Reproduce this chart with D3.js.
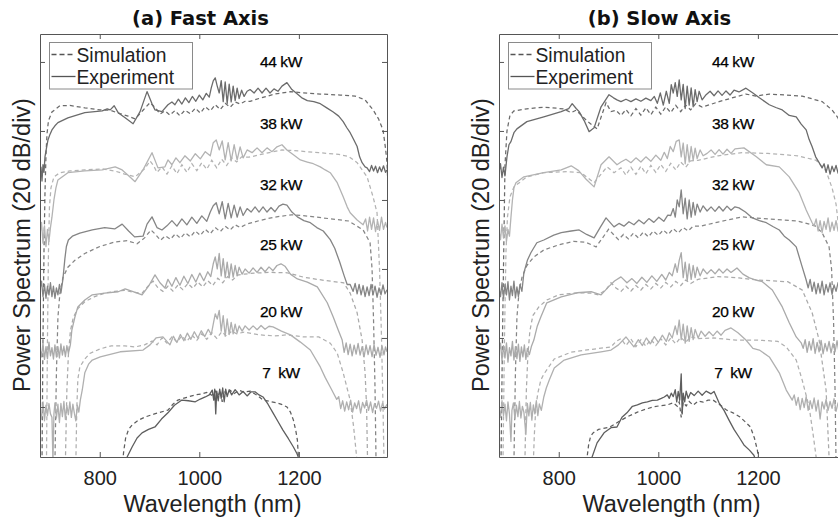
<!DOCTYPE html>
<html>
<head>
<meta charset="utf-8">
<script src="https://cdn.jsdelivr.net/npm/d3@7"></script>
<style>
  body { margin: 0; background: #fff; }
  svg { font-family: "Liberation Sans", Arial, sans-serif; }
</style>
</head>
<body>
<svg id="main" width="838" height="521"></svg>
<script>
// ---- data (wavelength in nm, level in dB, traces stacked 20 dB/div) ----
const panelTitles = ["(a) Fast Axis", "(b) Slow Axis"];
const powers = ["44 kW", "38 kW", "32 kW", "25 kW", "20 kW", "7  kW"];
const legendLabels = ["Simulation", "Experiment"];
const xTicks = [800, 1000, 1200];
const yTicks = [0, 20, 40, 60, 80, 100];

// (a) fast axis
const fast44Exp = [[680,66.7],[682,69.5],[684,65.5],[686,70.2],[688,68],[690,72.5],[693,75],[696,77.4],[700,79],[704,80.3],[710,81.5],[716,82.4],[736,83.8],[770,85.3],[805,85.8],[815,86.4],[821,86.1],[829,87.3],[837,85.3],[851,83.8],[867,82.1],[881,85.6],[895,91.4],[905,87.9],[911,86.1],[925,85.6],[937,87.6],[945,88.4],[951,87.6],[958,89.2],[965,87.8],[972,89.6],[979,88.2],[986,90],[993,88.6],[1000,90.4],[1007,89],[1014,90.9],[1020,89.8],[1024,92.5],[1028,94.5],[1032,95.4],[1036,93],[1040,91],[1044,94.6],[1048,88.5],[1052,94.2],[1056,88],[1060,93.6],[1064,88.4],[1068,93],[1072,88.8],[1076,92.4],[1080,89.4],[1085,91.8],[1090,90],[1096,91.5],[1102,92],[1110,91],[1118,92.4],[1126,91],[1134,92.4],[1142,91],[1150,92.2],[1158,91.5],[1166,93],[1176,94],[1186,92],[1197,90.7],[1207,89.5],[1217,88.8],[1230,88.5],[1243,87.9],[1256,86.7],[1269,85.5],[1280,84.3],[1289,82.7],[1296,81],[1303,79.5],[1310,77.5],[1317,75.5],[1322,72.5],[1327,70.8],[1333,69.6],[1337,69.3],[1342,68.2],[1346,70],[1350,68.4],[1354,69.8],[1358,67.9],[1362,69.6],[1366,68.2],[1370,69.9],[1374,68],[1377,68.7]];
const fast44Sim = [[684,-16],[686,20],[688,45],[690,62],[692,73],[694,79],[697,83],[704,85.5],[720,87.3],[740,87.4],[770,86.7],[801,86.1],[821,86],[841,85],[857,84.3],[871,83.5],[887,86],[901,88.2],[913,86.5],[921,84.9],[931,85.8],[941,84.6],[951,85.9],[961,84.4],[971,86],[982,85],[992,86.6],[1002,85.2],[1012,87],[1022,85.8],[1032,87.6],[1042,86.2],[1052,88],[1062,86.9],[1072,88.4],[1082,87.8],[1092,88.6],[1102,88.6],[1122,89.5],[1152,90.7],[1183,91.4],[1203,91.1],[1243,90.7],[1283,90.4],[1313,90.1],[1333,89],[1349,86.1],[1360,83.5],[1369,80.3],[1374,75],[1377,70.8],[1380,60]];
const fast38Exp = [[680,50],[683,53.5],[686,47.5],[689,52.5],[692,46.5],[695,51.5],[698,48],[701,52],[704,55],[708,60],[712,63.5],[716,65.8],[736,67.9],[770,68.4],[805,68.7],[831,69.6],[845,68.7],[858,67],[871,65.3],[888,69],[905,73.7],[917,69.3],[931,69.6],[937,71.6],[945,70.2],[953,72.2],[961,70.8],[971,72.8],[982,71.3],[992,73.4],[1002,71.9],[1012,74],[1022,72.8],[1028,76.6],[1034,77.4],[1040,74.5],[1046,77.1],[1052,71.6],[1058,76.6],[1064,71.3],[1070,76],[1076,71.6],[1082,75.4],[1088,72.2],[1096,74.5],[1106,73.7],[1116,75.1],[1126,73.7],[1136,75.1],[1146,74],[1156,75.4],[1166,76],[1176,74.5],[1189,73.1],[1203,71.6],[1217,71],[1229,70.5],[1243,69.6],[1253,68.7],[1263,67.9],[1277,65],[1289,60.9],[1297,58],[1303,56.3],[1317,54.2],[1329,52.8],[1334,54.5],[1338,51],[1342,55],[1346,51.5],[1350,54.8],[1354,50.8],[1358,53.9],[1362,51.2],[1366,55],[1370,51.5],[1374,53.5],[1377,52]];
const fast38Sim = [[693,-16],[695,20],[697,45],[699,58],[702,63.5],[708,66.7],[720,67.9],[740,68.4],[770,68.7],[805,69],[830,68.4],[850,67.5],[871,66.7],[890,69],[901,71.3],[908,70],[915,68],[925,69.6],[935,67.5],[945,69.9],[955,67.6],[965,70.2],[975,68],[985,70.5],[995,68.5],[1005,70.8],[1015,68.9],[1025,71.5],[1035,69.3],[1045,71.8],[1055,70],[1065,72.2],[1075,71],[1085,72.5],[1100,72.4],[1130,73.4],[1166,74.5],[1200,74.2],[1240,73.7],[1280,73.2],[1300,72.6],[1317,70.8],[1337,66.7],[1349,60.9],[1357,56.3],[1362,40],[1366,20],[1369,0],[1371,-16]];
const fast32Exp = [[680,34],[683,36.5],[686,32],[689,35.5],[692,31.5],[695,35],[698,32.5],[701,36],[704,32],[707,35],[710,31.5],[713,34.5],[716,32.5],[719,35.5],[722,33],[726,37],[730,43],[733,46.5],[737,48.4],[745,49.5],[760,50.4],[785,51.3],[810,52],[830,51.6],[845,53],[858,51],[870,49.3],[887,49.5],[895,53],[905,55.1],[915,52],[925,51.3],[935,52.5],[945,54],[955,52.4],[965,54.5],[975,52.8],[985,55],[995,53.2],[1005,55.4],[1015,53.8],[1022,56.5],[1028,58.3],[1034,59.2],[1040,56],[1046,59.5],[1052,54.5],[1058,59],[1064,54.8],[1070,58.5],[1076,55],[1082,58],[1088,55.5],[1096,57.5],[1104,56.5],[1112,58],[1120,56.5],[1128,58],[1136,56.5],[1144,57.8],[1152,56.6],[1160,58.2],[1168,58.8],[1176,58.5],[1186,56.5],[1197,55.1],[1210,54],[1223,53.4],[1236,52],[1249,51],[1263,48.5],[1272,46],[1282,42],[1291,38],[1297,35.5],[1303,35.5],[1309,33.5],[1313,35.8],[1317,32.8],[1321,35.5],[1325,32.5],[1329,35.2],[1333,32],[1337,34.8],[1341,32.3],[1345,35.5],[1349,32.5],[1353,35],[1357,31.8],[1361,34.5],[1365,32.5],[1369,35.4],[1373,32.8],[1377,34]];
const fast32Sim = [[710,-16],[713,10],[716,26],[720,33],[726,37.5],[736,40.5],[750,42.5],[770,44.5],[800,46.5],[830,47.8],[855,48.2],[875,47.3],[890,49],[903,51.3],[912,50],[922,48.3],[932,49.6],[942,48.6],[952,50.2],[962,48.9],[972,50.5],[982,49.3],[992,51],[1002,49.7],[1012,51.5],[1022,50.2],[1032,52],[1042,50.8],[1052,52.4],[1062,51.3],[1072,52.8],[1082,52],[1095,53],[1120,54],[1150,55],[1185,55.7],[1220,55.3],[1260,54.6],[1300,53.9],[1329,51.3],[1343,47.6],[1347,40],[1350,25],[1353,5],[1355,-16]];
const fast25Exp = [[680,17],[683,14.5],[686,18.5],[689,13.8],[692,17.5],[695,14],[698,18.8],[701,14.8],[704,17.2],[707,13.9],[710,18],[713,14.5],[716,17.5],[719,14.2],[722,18.3],[725,15],[728,17.6],[731,14.6],[734,17.8],[737,15.5],[741,18],[744,22.3],[750,26],[756,29],[770,31],[785,32.5],[810,33],[837,33.4],[851,34.2],[867,33.4],[885,32.5],[898,35],[911,38.3],[921,36],[931,34.5],[937,37],[945,35],[953,37.5],[961,35.3],[969,37.9],[977,35.8],[985,38.4],[993,36.2],[1001,38.8],[1009,36.6],[1017,39.2],[1023,37.8],[1028,41.5],[1032,43.5],[1036,40],[1040,44.5],[1044,38],[1048,43],[1052,37.5],[1056,42],[1060,37.4],[1064,41.5],[1068,37.6],[1072,41],[1076,38],[1080,40.5],[1086,38.5],[1092,40],[1100,38.8],[1108,40.3],[1116,39],[1124,40.5],[1132,39.2],[1140,40.6],[1148,39.5],[1156,41],[1164,41.5],[1172,40.8],[1183,38.5],[1197,37.1],[1217,36.2],[1237,34.8],[1257,30.2],[1269,26.1],[1279,22.3],[1287,19.4],[1291,15.8],[1295,18.6],[1299,15.2],[1303,18.2],[1307,14.8],[1311,17.9],[1315,15.3],[1319,18.4],[1323,15],[1327,17.5],[1331,14.5],[1335,18],[1339,15.2],[1343,17.8],[1347,14.6],[1351,18.1],[1355,15],[1359,17.3],[1363,14.4],[1367,17.7],[1371,15.1],[1374,17.4],[1377,16]];
const fast25Sim = [[731,-16],[734,5],[737,15],[741,22],[747,26],[756,28.5],[770,30.5],[790,32],[810,33],[830,33.5],[850,33.8],[870,33.2],[885,33],[897,35],[907,36.5],[917,34.5],[927,33.5],[937,35],[947,33.6],[957,35.3],[967,34],[977,35.8],[987,34.4],[997,36.2],[1007,34.8],[1017,36.6],[1027,35.2],[1037,37.3],[1047,36],[1057,37.8],[1067,36.8],[1077,38.2],[1090,38.5],[1110,38.8],[1140,39],[1176,38.9],[1210,37.6],[1250,36.7],[1290,36],[1303,33],[1317,27.3],[1327,19.4],[1333,9.9],[1336,0],[1338,-16]];
const fast20Exp = [[680,-1],[683,-3.5],[686,1.5],[689,-4],[692,0.5],[695,-2.5],[698,1],[701,-2],[704,-3],[706,-16],[708,-2],[710,1.2],[713,-3.2],[716,0.8],[719,-4.5],[722,1],[725,-2.8],[728,1.6],[731,-3.6],[734,0.4],[737,-2.2],[740,1.5],[743,-3],[746,0.8],[749,-1.8],[752,-4],[755,0.5],[758,-1.5],[761,2],[765,5],[770,9.9],[778,12.5],[785,13.6],[801,14.5],[841,16],[887,16.5],[901,18],[913,20],[927,20.3],[941,18],[948,20.5],[955,18.7],[962,21],[969,19.2],[976,21.4],[983,19.6],[990,21.8],[997,20],[1004,22.1],[1011,20.4],[1018,22.5],[1024,21],[1028,24],[1032,27],[1036,25.5],[1040,28],[1044,22],[1048,26.5],[1052,20.5],[1056,25.5],[1060,21],[1064,24.5],[1068,21.2],[1072,24],[1076,21.5],[1080,23.5],[1086,22],[1092,23.5],[1100,22.3],[1108,23.5],[1116,22.4],[1124,23.6],[1132,22.5],[1140,23.4],[1148,23.2],[1165,22],[1183,20.9],[1203,18.8],[1223,16.5],[1243,11.6],[1253,8.5],[1263,5.8],[1269,4.1],[1276,2.2],[1280,3],[1284,-0.5],[1288,1.8],[1292,-1.2],[1296,1.5],[1300,-0.8],[1304,2],[1308,-1.5],[1312,1.2],[1316,-0.5],[1320,1.8],[1324,-1.8],[1328,1.3],[1332,-0.3],[1336,2],[1340,-1],[1344,1.5],[1348,-1.6],[1352,1],[1356,-0.4],[1360,1.7],[1364,-1.2],[1368,1.1],[1372,-0.6],[1377,0.8]];
const fast20Sim = [[752,-16],[754,0],[756,8],[760,11.6],[770,13.9],[780,15.5],[800,16.8],[823,17.7],[850,17.7],[871,17.4],[890,18],[905,19.1],[915,18],[925,20],[935,18.5],[945,20.3],[955,18.8],[965,20.6],[975,19],[985,20.9],[995,19.3],[1005,21.2],[1015,19.6],[1025,21.5],[1035,19.9],[1045,21.8],[1055,20.5],[1065,22],[1075,21.2],[1090,21.7],[1120,20.9],[1150,20.6],[1177,20.9],[1210,20.3],[1240,20.3],[1263,18.5],[1277,15.6],[1289,9.9],[1303,2],[1310,-5.8],[1316,-14.5],[1318,-16]];
const fast7Exp = [[853,-16],[855,-14.5],[865,-11.6],[875,-9],[885,-7.5],[898,-6.5],[911,-5.8],[924,-3.5],[937,-1.7],[950,0.5],[965,2],[978,1.8],[992,1.5],[1002,2.3],[1012,2.9],[1020,3.5],[1026,4.9],[1029,2],[1031,5.2],[1033,-2],[1035,4.6],[1038,1.8],[1041,5.2],[1044,2.5],[1047,5.5],[1050,1.5],[1053,5.2],[1056,3],[1060,5],[1065,3.5],[1072,5],[1080,3.5],[1088,4.5],[1096,3.2],[1104,4.4],[1112,4.4],[1120,3.5],[1128,2.9],[1138,0.8],[1148,-1.7],[1158,-4.2],[1168,-6.7],[1179,-9.2],[1189,-11.6],[1196,-13.5],[1203,-16]];
const fast7Sim = [[846,-16],[848,-13],[852,-9],[858,-6.5],[865,-5.2],[878,-3.8],[891,-2.9],[910,-2],[937,-0.9],[947,0.8],[957,2],[975,2.8],[992,3.5],[1005,3.8],[1015,4.2],[1025,3.4],[1032,4.6],[1038,3.2],[1042,4.8],[1046,1.5],[1050,4.6],[1056,3.6],[1062,4.8],[1070,3.9],[1080,4.8],[1090,4.3],[1102,4.6],[1115,3.5],[1128,2],[1142,1.6],[1156,1.2],[1168,0.6],[1176,0],[1183,-1.5],[1189,-3.8],[1194,-7],[1197,-9.6],[1199,-14.5],[1200,-16]];

// (b) slow axis
const slow44Exp = [[680,68],[683,70.5],[686,66.5],[689,69.5],[692,67],[696,72.5],[700,76],[704,76.9],[710,79.5],[716,80.6],[736,82.7],[770,84.1],[805,85.6],[820,86.5],[827,87.9],[835,86.5],[841,85.6],[851,83],[861,79.8],[871,80.9],[885,87],[901,90.5],[910,89.6],[917,89],[925,88.5],[935,89.2],[945,88.5],[955,89.3],[965,88.6],[975,89.5],[985,88.8],[992,90],[998,88],[1004,91],[1010,87.5],[1016,91.5],[1022,88],[1026,93.4],[1030,91],[1034,94],[1038,90],[1042,94.8],[1046,89],[1050,93.5],[1054,86.5],[1058,93],[1062,87.5],[1066,92.5],[1070,87],[1074,92],[1078,88.5],[1082,91.5],[1088,89],[1096,90.5],[1104,91.5],[1112,90.2],[1120,91.6],[1128,90.3],[1136,91.6],[1144,90.4],[1152,91.8],[1162,91.3],[1176,92.4],[1190,91],[1203,89.6],[1223,87.6],[1236,86.8],[1249,86.1],[1263,84.5],[1277,84.1],[1287,82],[1297,80.3],[1303,77.5],[1309,75.4],[1316,72.5],[1323,70.8],[1329,69.3],[1333,70.5],[1337,68],[1341,70.2],[1345,67.5],[1349,69.8],[1353,68.2],[1357,70],[1361,67.8],[1365,69.5],[1369,68.3],[1376,69]];
const slow44Sim = [[684,-16],[687,20],[690,50],[692,70],[696,80],[702,84.5],[710,85.8],[736,86.4],[770,86.9],[810,86.4],[825,85.3],[835,86],[857,82.9],[877,80.6],[895,88.2],[905,85.6],[915,86],[925,84.5],[935,86.2],[945,84.4],[955,86.5],[965,84.6],[975,86.7],[985,84.7],[995,86.9],[1005,84.9],[1015,87],[1025,85.3],[1035,87.4],[1045,85.6],[1055,87.5],[1065,86.1],[1075,87.9],[1088,86.9],[1122,88.5],[1176,90.7],[1196,90.1],[1223,90.7],[1289,90.1],[1329,88.5],[1349,86.1],[1361,83.8],[1368,80],[1374,70],[1378,55]];
const slow38Exp = [[680,51],[683,48.5],[686,53],[689,49],[692,52.5],[695,48],[698,51.5],[701,49.5],[704,55],[707,60],[710,63.5],[714,65],[730,66.7],[770,67.9],[805,68.7],[825,69.9],[840,68.5],[855,66],[871,63.8],[885,70.2],[901,72.5],[917,70.2],[925,71],[935,71.8],[945,70.8],[955,72.2],[965,71],[975,72.5],[985,71.2],[995,73],[1005,71.5],[1012,73.8],[1018,72],[1024,75.5],[1030,74],[1036,77],[1042,77.4],[1046,72.5],[1050,76.5],[1054,70.5],[1058,76],[1062,71],[1066,75.5],[1070,71.5],[1074,75],[1078,72],[1084,74.5],[1090,72.8],[1098,73.5],[1106,74.5],[1114,73.2],[1122,74.6],[1130,73.3],[1138,74.7],[1146,73.5],[1154,74.8],[1172,75.1],[1197,72.5],[1217,70.2],[1243,69.6],[1263,66.7],[1283,62.1],[1297,57.1],[1309,53.4],[1313,52.5],[1317,54.5],[1321,51],[1325,54],[1329,50.5],[1333,53.8],[1337,51.5],[1341,54.8],[1345,50.8],[1349,53.6],[1353,51.2],[1357,54],[1361,51],[1365,53],[1370,51.5],[1376,52]];
const slow38Sim = [[688,-16],[691,20],[694,45],[697,55],[702,60.9],[710,63.8],[736,66.7],[770,67.9],[816,68.2],[845,67.9],[871,65],[897,69.6],[911,67.9],[925,69.3],[935,67.2],[945,69.5],[955,67.4],[965,69.8],[975,67.6],[985,70],[995,68],[1005,70.3],[1015,68.3],[1025,70.6],[1035,68.7],[1045,71],[1055,69.5],[1065,71.3],[1080,71.5],[1120,72.8],[1168,73.7],[1220,73.5],[1280,72.8],[1317,71.5],[1337,68.4],[1349,63.5],[1357,58.8],[1364,50],[1370,35],[1375,10],[1378,-16]];
const slow32Exp = [[680,34.5],[683,32],[686,36],[689,31.5],[692,35.5],[695,32.5],[698,36.3],[701,31],[704,35],[707,32.3],[710,36.5],[713,31.6],[716,34.8],[719,32],[722,35.5],[726,33.5],[730,38.9],[737,42.5],[744,44.7],[756,47.6],[770,48.4],[790,49.8],[805,50.5],[825,51],[841,51.3],[856,50],[871,49],[883,52],[895,54.8],[903,53.5],[911,52.2],[921,53.2],[931,52.4],[941,53.7],[951,52.8],[961,54.2],[971,53.1],[981,54.6],[991,53.5],[1001,55],[1011,53.8],[1019,55.6],[1025,55.5],[1030,57.5],[1034,55],[1038,60],[1042,58],[1046,62.9],[1050,56],[1054,60.5],[1058,54.5],[1062,60],[1066,55],[1070,59.3],[1074,55.6],[1078,58.8],[1084,56.5],[1090,58.3],[1098,56.8],[1106,58],[1114,56.7],[1122,58.1],[1130,56.8],[1138,58.2],[1146,57],[1154,58],[1162,57.7],[1175,56.5],[1189,54.8],[1203,54],[1217,53.4],[1230,52.3],[1243,51.3],[1253,49.5],[1263,48.4],[1277,46.4],[1289,40.6],[1297,36.8],[1301,34.5],[1305,37],[1309,33.5],[1313,36.2],[1317,32.8],[1321,35.8],[1325,33],[1329,36.5],[1333,32.5],[1337,35.5],[1341,33.3],[1345,36],[1349,32.6],[1353,35.4],[1357,33.5],[1361,36],[1365,33],[1370,35],[1376,34]];
const slow32Sim = [[710,-16],[713,10],[716,26],[720,33],[726,37.5],[736,41],[750,43.5],[770,45.5],[800,47],[830,48],[855,47.7],[875,46.4],[888,49],[900,51.5],[910,50],[920,48.5],[930,50],[940,48.7],[950,50.4],[960,49],[970,50.7],[980,49.3],[990,51],[1000,49.7],[1010,51.3],[1020,50],[1030,51.7],[1040,50.4],[1050,52],[1060,51],[1070,52.4],[1085,52.4],[1120,53.6],[1168,55.1],[1220,54.5],[1280,53.9],[1315,52.5],[1329,50.5],[1343,46.4],[1348,40],[1352,25],[1355,5],[1357,-16]];
const slow25Exp = [[680,16],[683,18.5],[686,13.5],[689,17.8],[692,14.2],[695,18.6],[698,13],[701,17.2],[704,14.8],[707,19],[710,13.6],[713,17.5],[716,14],[719,18.2],[722,13.2],[725,17.4],[728,14.5],[731,18],[734,13.8],[737,17],[741,15.2],[745,17.5],[750,19.4],[757,23.5],[764,26.1],[776,30.2],[805,31.9],[837,33.1],[865,33.4],[885,32.5],[900,34.8],[912,36.5],[925,37.7],[937,36],[947,37.2],[957,35.8],[967,37.6],[977,36.1],[987,38],[997,36.4],[1007,38.4],[1015,36.8],[1022,39],[1028,38],[1034,41.5],[1038,39],[1042,42.5],[1046,44.7],[1050,37.5],[1054,42],[1058,36.5],[1062,41.5],[1066,37],[1070,41],[1074,37.5],[1078,40.5],[1084,38],[1090,40],[1098,38.6],[1106,39.8],[1114,38.6],[1122,40],[1130,38.8],[1138,40],[1146,39],[1158,40.3],[1170,38.5],[1183,37.4],[1196,36.8],[1209,36.3],[1229,33.9],[1249,29],[1263,24.4],[1277,20.3],[1287,18.6],[1291,17],[1295,19.5],[1299,15.8],[1303,19],[1307,16.5],[1311,19.8],[1315,15.5],[1319,18.7],[1323,16],[1327,19.3],[1331,15.4],[1335,18.4],[1339,16.2],[1343,19],[1347,15.7],[1351,18.5],[1355,16],[1359,19.2],[1363,15.8],[1368,18],[1376,16.8]];
const slow25Sim = [[732,-16],[735,5],[738,15],[742,22],[748,26.5],[760,29],[776,31],[800,32.5],[837,33.1],[865,33],[880,32.5],[895,34],[905,36],[915,34.5],[925,33.5],[935,35],[945,33.6],[955,35.2],[965,33.9],[975,35.5],[985,34.2],[995,35.8],[1005,34.5],[1015,36.1],[1025,34.8],[1035,36.4],[1045,35.2],[1055,36.8],[1065,35.8],[1080,37],[1120,37.8],[1162,37.4],[1200,36.8],[1260,36.3],[1289,33.9],[1309,27.3],[1323,19.4],[1337,4.9],[1343,-14.5],[1344,-16]];
const slow20Exp = [[680,0],[683,-3],[686,1.8],[689,-2.5],[692,0.8],[695,-4],[698,1.5],[701,-2],[704,-10],[706,-1],[709,1.2],[712,-3.5],[715,0.5],[718,-2.8],[721,1.6],[724,-3.2],[727,0.2],[730,-1.5],[734,-8],[737,1],[740,-2.6],[743,1.3],[746,-3.8],[749,0.6],[752,-2],[755,1.8],[758,-2.5],[761,0.9],[765,-1],[770,2.9],[775,5.5],[781,7.8],[791,11.3],[811,13.6],[845,15.1],[885,16],[905,16.5],[920,18],[935,20.3],[951,17.4],[960,19.5],[968,17.8],[976,20],[984,18.3],[992,20.4],[1000,18.7],[1008,20.8],[1016,19],[1022,21.5],[1028,20],[1034,23.5],[1038,21],[1042,25.2],[1046,19.5],[1050,24],[1054,18.5],[1058,23.5],[1062,19],[1066,23],[1070,19.5],[1074,22.5],[1080,20],[1086,22],[1094,20.5],[1102,21.8],[1110,20.6],[1118,22],[1126,20.8],[1134,22.2],[1146,22.9],[1160,21.5],[1176,19.4],[1190,17],[1203,16.5],[1223,14.5],[1243,9.9],[1257,4.9],[1269,2],[1273,3.5],[1277,0.5],[1281,2.8],[1285,-0.8],[1289,2.5],[1293,-0.2],[1297,3],[1301,-1],[1305,1.8],[1309,-0.5],[1313,2.6],[1317,-1.2],[1321,2],[1325,-3.5],[1329,1.5],[1333,-0.6],[1337,2.2],[1341,-1],[1345,1.6],[1349,-0.4],[1353,2.4],[1357,-1.3],[1361,1.2],[1366,-0.2],[1376,1]];
const slow20Sim = [[749,-16],[751,-8],[754,0],[758,4],[764,7.8],[770,9.5],[791,13.9],[825,15.9],[871,16.8],[905,17.4],[915,19],[925,19.8],[935,17.8],[945,19.7],[955,17.5],[965,19.5],[975,17.6],[985,19.6],[995,17.8],[1005,19.8],[1015,18],[1025,20],[1035,18.3],[1045,20.2],[1055,18.8],[1065,20.3],[1080,19.8],[1110,20],[1156,19.4],[1200,19.4],[1240,19],[1257,17.4],[1277,13.6],[1289,7.8],[1303,0],[1311,-8],[1317,-14.5],[1318,-16]];
const slow7Exp = [[864,-16],[867,-14.5],[877,-10.4],[891,-7.5],[905,-6],[917,-5.8],[927,-3],[937,-1.7],[948,0.2],[958,0.6],[968,1.2],[978,1.5],[988,1.9],[998,2],[1006,2.5],[1012,2.9],[1018,3.5],[1022,2.5],[1026,4],[1030,3],[1034,5],[1037,1.5],[1040,4.5],[1043,2],[1046,9.6],[1048,-2],[1050,4],[1053,1.5],[1056,4.6],[1060,2.5],[1065,4.2],[1072,3.3],[1080,4.6],[1088,3.4],[1096,4.6],[1106,3.8],[1112,4.5],[1122,1.2],[1132,-1],[1142,-3.8],[1152,-6.5],[1162,-8.7],[1172,-11],[1183,-12.5],[1192,-14],[1197,-16]];
const slow7Sim = [[855,-16],[857,-14.5],[860,-11],[864,-8.5],[869,-7.5],[880,-6.5],[903,-5.8],[920,-4.3],[937,-2.9],[958,-1.5],[975,-0.6],[990,0],[1005,0.4],[1018,0.6],[1030,1.2],[1038,0.2],[1042,1.5],[1046,-3],[1050,1.4],[1056,0.3],[1062,1.6],[1070,0.5],[1080,1.7],[1090,1.4],[1100,2],[1110,2],[1125,0.5],[1137,-0.9],[1150,-1.7],[1164,-2.9],[1176,-4.5],[1185,-5.8],[1193,-9],[1199,-12.5],[1202,-16]];

// ---- layout / style ----
const shades = ["#6b6b6b", "#b3b3b3", "#858585", "#aaaaaa", "#b0b0b0", "#5e5e5e"];
const axisColor = "#555";
const plotTop = 34, plotBottom = 457, plotWidth = 347;
// label anchor level (dB) for each trace label
const labelLevels = [98.6, 80.6, 62.9, 45.5, 26.1, 8.4];

const panels = [
  { title: panelTitles[0], left: 40, labelNm: 1164,
    exp: [fast44Exp, fast38Exp, fast32Exp, fast25Exp, fast20Exp, fast7Exp],
    sim: [fast44Sim, fast38Sim, fast32Sim, fast25Sim, fast20Sim, fast7Sim] },
  { title: panelTitles[1], left: 499, labelNm: 1150,
    exp: [slow44Exp, slow38Exp, slow32Exp, slow25Exp, slow20Exp, slow7Exp],
    sim: [slow44Sim, slow38Sim, slow32Sim, slow25Sim, slow20Sim, slow7Sim] },
];

const svg = d3.select("#main");

panels.forEach((p, pi) => {
  const x = d3.scaleLinear().domain([680, 1377]).range([p.left, p.left + plotWidth]);
  const y = d3.scaleLinear().domain([-14.5, 108.1]).range([plotBottom, plotTop]);
  const line = d3.line().x(d => x(d[0])).y(d => y(d[1]));

  svg.append("clipPath").attr("id", "clip" + pi)
    .append("rect")
    .attr("x", p.left).attr("y", plotTop)
    .attr("width", plotWidth).attr("height", plotBottom - plotTop);

  const g = svg.append("g").attr("clip-path", `url(#clip${pi})`);

  // simulation (dashed) then experiment (solid)
  g.selectAll(".sim")
    .data(p.sim)
    .enter()
    .append("path")
    .classed("sim", true)
    .attr("d", line)
    .attr("fill", "none")
    .attr("stroke", (d, i) => shades[i])
    .attr("stroke-width", 1.25)
    .attr("stroke-dasharray", "4,3");

  g.selectAll(".exp")
    .data(p.exp)
    .enter()
    .append("path")
    .classed("exp", true)
    .attr("d", line)
    .attr("fill", "none")
    .attr("stroke", (d, i) => shades[i])
    .attr("stroke-width", 1.3)
    .attr("stroke-linejoin", "round");

  // power labels
  svg.selectAll(".lab" + pi)
    .data(powers)
    .enter()
    .append("text")
    .attr("x", x(p.labelNm))
    .attr("y", (d, i) => y(labelLevels[i]))
    .attr("text-anchor", "middle")
    .attr("font-size", 15.5)
    .attr("letter-spacing", -0.4)
    .attr("fill", "#000")
    .attr("stroke", "#000")
    .attr("stroke-width", 0.25)
    .style("white-space", "pre")
    .text(d => d);

  // axes, ticks pointing inward
  const styleAxis = sel => {
    sel.selectAll("path, line").attr("stroke", axisColor);
    sel.attr("font-family", null);
  };
  svg.append("g")
    .attr("transform", `translate(0,${plotBottom})`)
    .call(d3.axisBottom(x).tickValues(xTicks).tickSize(-5).tickSizeOuter(0).tickPadding(14).tickFormat(d3.format("d")))
    .call(styleAxis)
    .attr("font-size", 20)
    .selectAll("text").attr("fill", "#222");
  svg.append("g")
    .attr("transform", `translate(0,${plotTop})`)
    .call(d3.axisTop(x).tickValues(xTicks).tickSize(-5).tickSizeOuter(0).tickFormat(""))
    .call(styleAxis);
  svg.append("g")
    .attr("transform", `translate(${p.left},0)`)
    .call(d3.axisLeft(y).tickValues(yTicks).tickSize(-5).tickSizeOuter(0).tickFormat(""))
    .call(styleAxis);
  svg.append("g")
    .attr("transform", `translate(${p.left + plotWidth},0)`)
    .call(d3.axisRight(y).tickValues(yTicks).tickSize(-5).tickSizeOuter(0).tickFormat(""))
    .call(styleAxis);

  // axis labels and title
  svg.append("text")
    .attr("x", p.left + plotWidth / 2 - 1)
    .attr("y", 512)
    .attr("text-anchor", "middle")
    .attr("font-size", 23.5)
    .attr("fill", "#222")
    .text("Wavelength (nm)");
  svg.append("text")
    .attr("transform", `translate(${p.left - 10},245) rotate(-90)`)
    .attr("text-anchor", "middle")
    .attr("font-size", 23.5)
    .attr("fill", "#222")
    .text("Power Spectrum (20 dB/div)");
  svg.append("text")
    .attr("x", p.left + plotWidth / 2 - 13)
    .attr("y", 25)
    .attr("text-anchor", "middle")
    .attr("font-family", "'DejaVu Sans', sans-serif")
    .attr("font-size", 19.5)
    .attr("font-weight", "bold")
    .attr("fill", "#111")
    .text(p.title);

  // legend
  const lg = svg.append("g").attr("transform", `translate(${p.left + 9.5},42.5)`);
  lg.append("rect")
    .attr("width", 143).attr("height", 46.5)
    .attr("fill", "#fff").attr("stroke", "#8a8a8a");
  lg.selectAll(".entry")
    .data(legendLabels)
    .enter()
    .append("g")
    .attr("transform", (d, i) => `translate(0,${12 + i * 22})`)
    .each(function(d, i) {
      const e = d3.select(this);
      e.append("line")
        .attr("x1", 2).attr("x2", 26).attr("y1", 0).attr("y2", 0)
        .attr("stroke", "#555").attr("stroke-width", 1.3)
        .attr("stroke-dasharray", i === 0 ? "5,3" : null);
      e.append("text")
        .attr("x", 27).attr("y", 7)
        .attr("font-size", 19.3)
        .attr("fill", "#222")
        .text(d);
    });
});
</script>
</body>
</html>
